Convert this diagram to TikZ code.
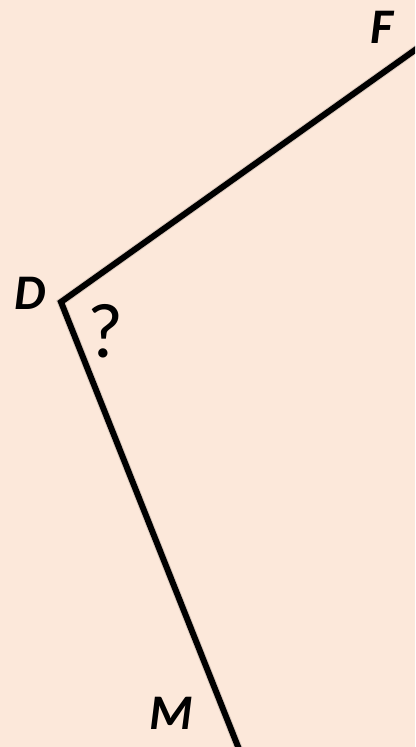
\documentclass[tikz,border=0pt]{standalone}
\usepackage{fontspec}
\setmainfont{Carlito}
\definecolor{bgpeach}{HTML}{FCE8DA}
\tikzset{
  edge/.style={line width=6bp, black, line join=miter},
  edgeshadow/.style={line width=8bp, black, opacity=0.12, line join=miter},
  lbl/.style={inner sep=0pt, font=\fontsize{50}{50}\selectfont\bfseries\itshape},
  qmark/.style={inner sep=0pt, font=\fontsize{78}{78}\selectfont}
}
\begin{document}
\begin{tikzpicture}[x=1bp,y=-1bp]
\useasboundingbox (0,0) rectangle (415,747);
\fill[bgpeach] (0,0) rectangle (415,747);
\clip (0,0) rectangle (415,747);
\coordinate (vD) at (61,302);
\coordinate (vF) at (440,32.2);
\coordinate (vM) at (247.3,770);
\draw[edgeshadow, shift={(2,2)}] (vF) -- (vD) -- (vM);
\draw[edge] (vF) -- (vD) -- (vM);
\node[lbl] (lD) at (30,293) {D};
\node[lbl] (lF) at (382,27) {F};
\node[lbl] (lM) at (171,713) {M};
\node[qmark] (q) at (106,331) {?};
\end{tikzpicture}
\end{document}
